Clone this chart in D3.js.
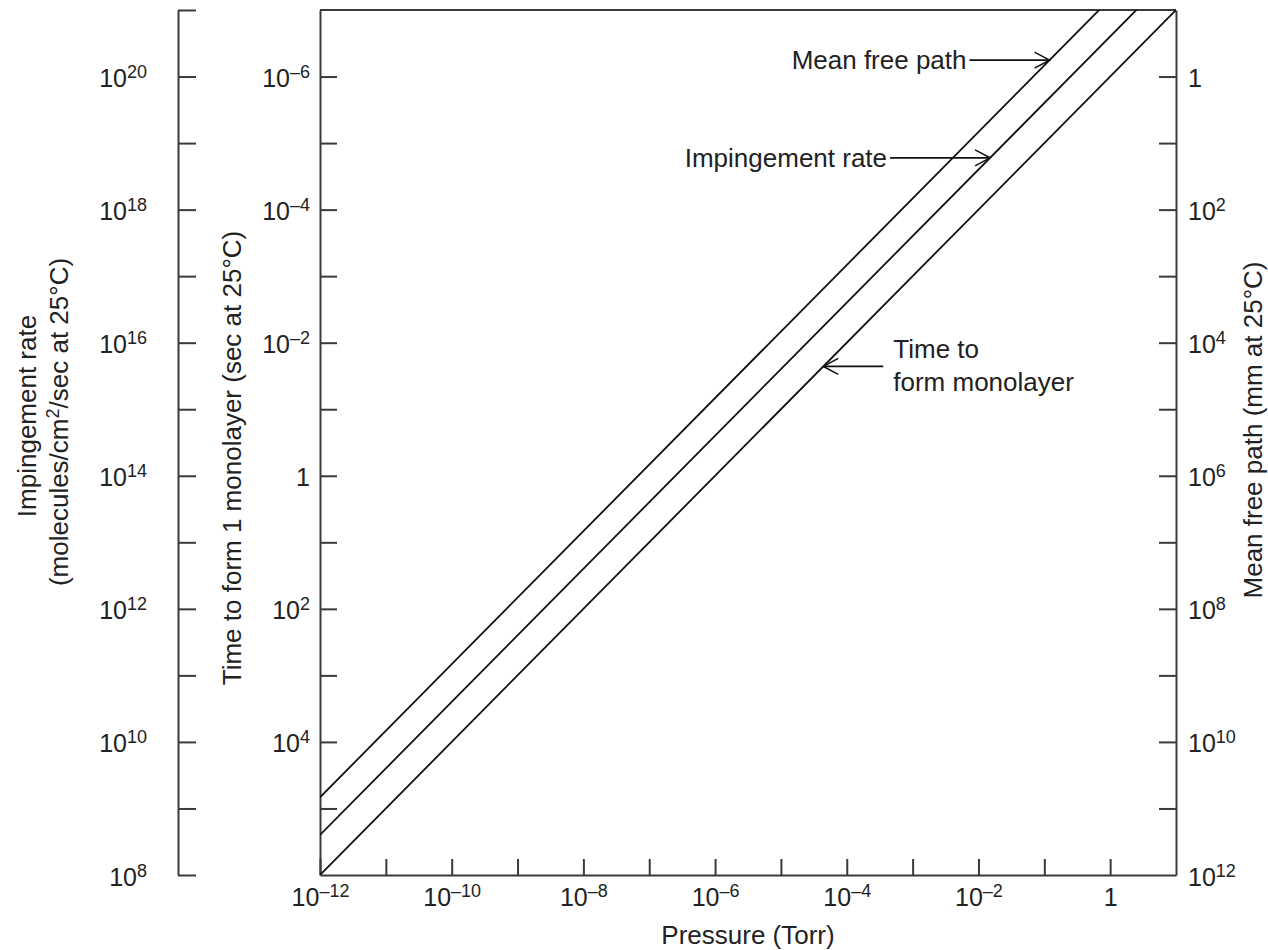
<!DOCTYPE html>
<html>
<head>
<meta charset="utf-8">
<script src="https://cdn.jsdelivr.net/npm/d3@7"></script>
<style>
  body { margin: 0; background: #fff; }
  svg { font-family: "Liberation Sans", Arial, sans-serif; }
</style>
</head>
<body>
<div id="chart"></div>
<script>
// pressure end points (Torr) and values
const pressures = [1e-12, 1];
const meanFreePath = [6.8e10, 0.068];      // mm
const impingementRate = [4e8, 4e20];       // molecules/cm2/sec
const monolayerTime = [1e6, 1e-6];         // sec

// exponents for ticks and labels
const pressureTicks = d3.range(-12, 1);
const timeTicks = d3.range(-6, 6);
const impTicks = d3.range(8, 22);
const mfpTicks = d3.range(0, 13);

// annotations: label lines, pressure the arrow points at, arrow length
const annotations = [
    {lines: ['Mean free path'], p: 0.12, side: 'left', len: 80},
    {lines: ['Impingement rate'], p: 0.015, side: 'left', len: 100},
    {lines: ['Time to', 'form monolayer'], p: 4.4e-5, side: 'right', len: 60}
];

const chartWidth = 1268, chartHeight = 950;
const plotLeft = 320, plotRight = 1176, plotTop = 10, plotBottom = 875;
const outerX = 178;
const axisColor = '#3a3a3a';

let svg = d3.select('#chart').append('svg')
    .attr('width', chartWidth)
    .attr('height', chartHeight);

let x = d3.scaleLog().domain([1e-12, 10]).range([plotLeft, plotRight]);
let yTime = d3.scaleLog().domain([1e-7, 1e6]).range([plotTop, plotBottom]);
let yImp = d3.scaleLog().domain([1e21, 1e8]).range([plotTop, plotBottom]);
let yMfp = d3.scaleLog().domain([1e-1, 1e12]).range([plotTop, plotBottom]);

// write 10^n with a raised exponent
const supLabel = function(sel) {
    sel.each(function(e) {
        let t = d3.select(this).text('');
        if (e === 0) { t.append('tspan').text('1'); return; }
        t.append('tspan').text('10');
        t.append('tspan')
            .attr('dy', -9)
            .style('font-size', '18px')
            .text(e < 0 ? '\u2013' + (-e) : String(e));
    });
};

const styleAxis = function(g) {
    g.attr('font-family', null).attr('font-size', null);
    g.selectAll('path.domain').attr('stroke', axisColor).attr('stroke-width', 2);
    g.selectAll('.tick line').attr('stroke', axisColor).attr('stroke-width', 2);
    g.selectAll('.tick text').attr('fill', '#222').style('font-size', '25px');
};

const relabel = function(g, dy) {
    g.selectAll('.tick').each(function(d) {
        let e = Math.round(Math.log10(d));
        let t = d3.select(this).select('text');
        if (e % 2 !== 0) t.remove();
        else t.datum(e).call(supLabel).attr('dy', dy);
    });
};

const pow10 = function(e) {return Math.pow(10, e)};

// bottom axis
let xAxis = svg.append('g')
    .attr('transform', 'translate(0,' + plotBottom + ')')
    .call(d3.axisBottom(x)
        .tickValues(pressureTicks.map(pow10))
        .tickSizeInner(-16).tickSizeOuter(0).tickPadding(8));
styleAxis(xAxis);
relabel(xAxis, '0.9em');

// inner left axis: time
let timeAxis = svg.append('g')
    .attr('transform', 'translate(' + plotLeft + ',0)')
    .call(d3.axisLeft(yTime)
        .tickValues(timeTicks.map(pow10))
        .tickSizeInner(-17).tickSizeOuter(0).tickPadding(10));
styleAxis(timeAxis);
relabel(timeAxis, '0.4em');

// outer left axis: impingement rate
let impAxis = svg.append('g')
    .attr('transform', 'translate(' + outerX + ',0)')
    .call(d3.axisLeft(yImp)
        .tickValues(impTicks.map(pow10))
        .tickSizeInner(-18).tickSizeOuter(0).tickPadding(31));
styleAxis(impAxis);
relabel(impAxis, '0.4em');

// right axis: mean free path
let mfpAxis = svg.append('g')
    .attr('transform', 'translate(' + plotRight + ',0)')
    .call(d3.axisRight(yMfp)
        .tickValues(mfpTicks.map(pow10))
        .tickSizeInner(-17).tickSizeOuter(0).tickPadding(12));
styleAxis(mfpAxis);
mfpAxis.selectAll('.tick').filter(function(d) {return d >= 1e12}).select('line').remove();
relabel(mfpAxis, '0.4em');

// top border
svg.append('line')
    .attr('x1', plotLeft).attr('x2', plotRight)
    .attr('y1', plotTop).attr('y2', plotTop)
    .attr('stroke', axisColor).attr('stroke-width', 2);

// series lines
svg.append('clipPath').attr('id', 'plotClip')
    .append('rect')
    .attr('x', plotLeft).attr('y', plotTop)
    .attr('width', plotRight - plotLeft).attr('height', plotBottom - plotTop);

const series = [
    {values: meanFreePath, y: yMfp},
    {values: impingementRate, y: yImp},
    {values: monolayerTime, y: yTime}
];

let lineGroup = svg.append('g').attr('clip-path', 'url(#plotClip)');
series.forEach(function(s) {
    let lp = pressures.map(Math.log10), lv = s.values.map(Math.log10);
    // straight line on log-log axes, carried on to the frame edges
    let slope = (lv[1] - lv[0]) / (lp[1] - lp[0]);
    s.at = function(p) {return Math.pow(10, lv[0] + slope * (Math.log10(p) - lp[0]))};
    let line = d3.line()
        .x(function(p) {return x(p)})
        .y(function(p) {return s.y(s.at(p))});
    lineGroup.append('path')
        .attr('d', line(x.domain()))
        .attr('fill', 'none')
        .attr('stroke', '#111')
        .attr('stroke-width', 1.8);
});

// annotations with open arrow heads
annotations.forEach(function(a, i) {
    let s = series[i];
    let tx = x(a.p), ty = s.y(s.at(a.p));
    let g = svg.append('g');
    let dir = a.side === 'left' ? -1 : 1;
    let sx = tx + dir * a.len;
    g.append('line')
        .attr('x1', sx).attr('x2', tx)
        .attr('y1', ty).attr('y2', ty)
        .attr('stroke', '#111').attr('stroke-width', 1.6);
    g.append('path')
        .attr('d', 'M' + (tx + dir * 15) + ',' + (ty - 8) + 'L' + tx + ',' + ty + 'L' + (tx + dir * 15) + ',' + (ty + 8))
        .attr('fill', 'none').attr('stroke', '#111').attr('stroke-width', 1.6);
    let text = g.append('text')
        .attr('fill', '#222')
        .style('font-size', '26px')
        .attr('text-anchor', a.side === 'left' ? 'end' : 'start');
    if (a.side === 'left') {
        text.attr('x', sx - 3).attr('y', ty + 9).text(a.lines[0]);
    } else {
        a.lines.forEach(function(l, k) {
            text.append('tspan')
                .attr('x', sx + 10)
                .attr('y', ty - 8 + k * 33)
                .text(l);
        });
    }
});

// axis titles
const title = function(txt, tx, ty, rot) {
    return svg.append('text')
        .attr('transform', 'translate(' + tx + ',' + ty + ') rotate(' + rot + ')')
        .attr('text-anchor', 'middle')
        .attr('fill', '#222')
        .style('font-size', '26px')
        .text(txt);
};

title('Pressure (Torr)', 748, 944, 0);
title('Impingement rate', 36, 416, -90);
let imp2 = title('', 68, 422, -90);
imp2.append('tspan').text('(molecules/cm');
imp2.append('tspan').attr('dy', -9).style('font-size', '18px').text('2');
imp2.append('tspan').attr('dy', 9).text('/sec at 25\u00b0C)');
title('Time to form 1 monolayer (sec at 25\u00b0C)', 241, 458, -90);
title('Mean free path (mm at 25\u00b0C)', 1262, 430, -90);
</script>
</body>
</html>
